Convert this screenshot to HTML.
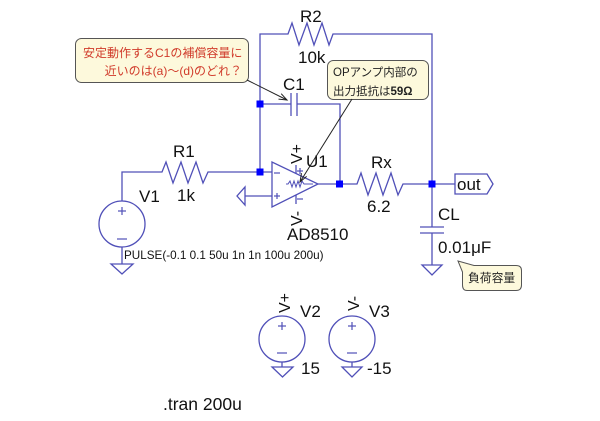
<!DOCTYPE html>
<html>
<head>
<meta charset="utf-8">
<style>
html,body{margin:0;padding:0;background:#fff;}
svg{display:block;}
text{font-family:"Liberation Sans","Noto Sans CJK JP",sans-serif;}
</style>
</head>
<body>
<svg width="600" height="421" viewBox="0 0 600 421" xmlns="http://www.w3.org/2000/svg">
<rect width="600" height="421" fill="#fff"/>
<g fill="none" stroke="#5050b8" stroke-width="1.3" stroke-linejoin="miter">
  <!-- R2 feedback -->
  <polyline points="260,173 260,34 288,34 292,23 299,45 307,23 314,45 322,23 329,45 333,34 432,34 432,184"/>
  <!-- C1 -->
  <polyline points="260,104 291,104"/>
  <line x1="291" y1="93" x2="291" y2="116"/>
  <line x1="297" y1="93" x2="297" y2="116"/>
  <polyline points="297,104 340,104 340,184"/>
  <!-- R1 -->
  <polyline points="122,201 122,172 162,172 166,162 173,183 181,162 188,183 196,162 203,183 208,172 260,172 272,172"/>
  <!-- + input to ground -->
  <line x1="245" y1="196" x2="272" y2="196"/>
  <polygon points="245,187 245,205 237,196"/>
  <!-- opamp -->
  <polygon points="272,162 272,207 318,184"/>
  <line x1="296" y1="165" x2="296" y2="174"/>
  <line x1="296" y1="195" x2="296" y2="204"/>
  <!-- output & Rx -->
  <polyline points="318,184 357,184 361,173 368,195 376,173 383,195 391,173 398,195 403,184 455,184"/>
  <!-- out flag -->
  <polygon points="455,174 487,174 493,184 487,194 455,194"/>
  <!-- CL -->
  <line x1="432" y1="184" x2="432" y2="227"/>
  <line x1="420" y1="227" x2="444" y2="227"/>
  <line x1="420" y1="233" x2="444" y2="233"/>
  <line x1="432" y1="233" x2="432" y2="265"/>
  <polygon points="422,265 442,265 432,275"/>
  <!-- V1 -->
  <circle cx="122" cy="224" r="23"/>
  <line x1="122" y1="247" x2="122" y2="264"/>
  <polygon points="111,264 133,264 122,274"/>
  <!-- V2 -->
  <circle cx="282" cy="339" r="23"/>
  <line x1="282" y1="362" x2="282" y2="367"/>
  <polygon points="272,367 293,367 282.5,377"/>
  <!-- V3 -->
  <circle cx="352" cy="339" r="23"/>
  <line x1="352" y1="362" x2="352" y2="367"/>
  <polygon points="342,367 362,367 352,377"/>
</g>
<!-- source +/- signs -->
<g stroke="#5050b8" stroke-width="1.2">
  <line x1="118" y1="211" x2="126" y2="211"/><line x1="122" y1="207" x2="122" y2="215"/>
  <line x1="117" y1="239" x2="127" y2="239"/>
  <line x1="278" y1="326" x2="286" y2="326"/><line x1="282" y1="322" x2="282" y2="330"/>
  <line x1="277" y1="353" x2="287" y2="353"/>
  <line x1="348" y1="326" x2="356" y2="326"/><line x1="352" y1="322" x2="352" y2="330"/>
  <line x1="347" y1="353" x2="357" y2="353"/>
  <!-- opamp inner marks -->
  <line x1="274" y1="173" x2="280" y2="173"/>
  <line x1="274" y1="196" x2="280" y2="196"/><line x1="277" y1="193" x2="277" y2="199"/>
  <line x1="297" y1="171" x2="303" y2="171"/><line x1="300" y1="168" x2="300" y2="174"/>
  <line x1="297" y1="199" x2="303" y2="199"/>
</g>
<polyline fill="none" stroke="#5050b8" stroke-width="1" points="286,184 288,184 290,181 292,187 294,181 296,187 298,181 300,187 302,181 304,184 313,184"/>
<!-- junctions -->
<g fill="#0000ff">
  <rect x="256.5" y="100.5" width="7" height="7"/>
  <rect x="256.5" y="168.5" width="7" height="7"/>
  <rect x="336" y="180.5" width="7" height="7"/>
  <rect x="428.5" y="180.5" width="7" height="7"/>
</g>
<!-- labels -->
<g fill="#111" font-size="17">
  <text x="300" y="22">R2</text>
  <text x="298" y="63">10k</text>
  <text x="283" y="90">C1</text>
  <text x="173" y="157">R1</text>
  <text x="177" y="201">1k</text>
  <text x="139" y="202">V1</text>
  <text x="306" y="167">U1</text>
  <text x="287" y="240">AD8510</text>
  <text x="371" y="168">Rx</text>
  <text x="367" y="212">6.2</text>
  <text x="457" y="190">out</text>
  <text x="438" y="220">CL</text>
  <text x="438" y="253">0.01μF</text>
  <text x="300" y="317">V2</text>
  <text x="369" y="317">V3</text>
  <text x="301" y="374">15</text>
  <text x="367" y="374">-15</text>
  <text x="163" y="410" font-size="17.5">.tran 200u</text>
  <text x="124" y="259" font-size="11.7">PULSE(-0.1 0.1 50u 1n 1n 100u 200u)</text>
  <text transform="translate(302,164) rotate(-90)" font-size="16">V+</text>
  <text transform="translate(302,226) rotate(-90)" font-size="16">V-</text>
  <text transform="translate(290,313) rotate(-90)" font-size="16">V+</text>
  <text transform="translate(359,311) rotate(-90)" font-size="16">V-</text>
</g>
<!-- callout 1 -->
<rect x="75.5" y="38.5" width="173" height="44" rx="6" fill="#fdf9dc" stroke="#555" stroke-width="1"/>
<text x="83" y="57" font-size="12" fill="#d03a2a">安定動作するC1の補償容量に</text>
<text x="242" y="75" font-size="12" fill="#d03a2a" text-anchor="end">近いのは(a)〜(d)のどれ？</text>
<g fill="none" stroke="#222" stroke-width="1">
  <line x1="247" y1="80" x2="287" y2="100"/>
  <polyline points="278.5,99.1 287,100 281.2,93.7"/>
</g>
<!-- callout 2 -->
<rect x="327.5" y="60.5" width="101" height="39" rx="6" fill="#fdf9dc" stroke="#555" stroke-width="1"/>
<text x="333" y="76" font-size="11.5" fill="#222">OPアンプ内部の</text>
<text x="333" y="95" font-size="11.5" fill="#222">出力抵抗は<tspan font-weight="bold">59Ω</tspan></text>
<g fill="none" stroke="#222" stroke-width="1">
  <line x1="352" y1="99" x2="300" y2="182"/>
  <polyline points="301.5,173.2 300,182 306.6,176.4"/>
</g>
<!-- callout 3 -->
<path d="M458,261 L474,265.5 L516,265.5 Q521.5,265.5 521.5,270.5 L521.5,285 Q521.5,290.5 516,290.5 L467,290.5 Q462.5,290.5 462.5,285 L462.5,272 Z" fill="#fdf9dc" stroke="#555" stroke-width="1"/>
<text x="468" y="282" font-size="11.8" fill="#222">負荷容量</text>
</svg>
</body>
</html>
